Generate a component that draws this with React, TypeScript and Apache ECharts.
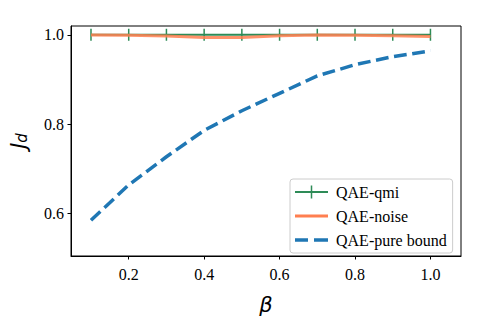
import React, { useEffect, useRef } from "react";
import * as echarts from "echarts";

const betas = [0.1, 0.2, 0.3, 0.4, 0.5, 0.6, 0.7, 0.8, 0.9, 1.0];
const qmi = [1.0, 1.0, 1.0, 1.0, 1.0, 1.0, 1.0, 1.0, 1.0, 1.0];
const noise = [0.9995, 0.999, 0.997, 0.994, 0.994, 0.998, 0.9995, 0.999, 0.998, 0.996];
const pureBound = [0.585, 0.664, 0.727, 0.786, 0.83, 0.869, 0.908, 0.933, 0.951, 0.964];
const xTicks = [0.2, 0.4, 0.6, 0.8, 1.0];
const yTicks = [0.6, 0.8, 1.0];

const serif = "Liberation Serif";
const corners = "M0,0h0.01v0.01h-0.01zM32.99,13.99h0.01v0.01h-0.01z";
const iconQmi = "path://" + corners + "M0,6h33v2h-33zM15.75,0.5h1.5v13h-1.5z";
const iconNoise = "path://" + corners + "M0,5.5h33v3h-33z";
const iconPure = "path://" + corners + "M0,5.2h13v3.6h-13zM19,5.2h14v3.6h-14z";

export default function App() {
  const ref = useRef<HTMLDivElement>(null);
  useEffect(() => {
    document.body.style.margin = "0";
    const chart = echarts.init(ref.current!, undefined, { renderer: "svg" });
    const pair = (ys: number[]) => betas.map((b, i) => [b, ys[i]]);
    chart.setOption({
      animation: false,
      backgroundColor: "#fff",
      textStyle: { fontFamily: serif },
      grid: {
        left: 67.5,
        right: 19,
        top: 26,
        bottom: 58,
        show: true,
        borderColor: "#000",
        borderWidth: 1,
        backgroundColor: "transparent",
      },
      xAxis: {
        type: "value",
        min: 0.047,
        max: 1.081,
        splitLine: { show: false },
        axisLine: { show: true, lineStyle: { color: "#000", width: 1 } },
        axisTick: { show: true, customValues: xTicks, length: 3.5, lineStyle: { color: "#000" } },
        axisLabel: {
          customValues: xTicks,
          formatter: (v: number) => v.toFixed(1),
          fontFamily: serif,
          fontSize: 16,
          color: "#000",
          margin: 10,
        },
        name: "β",
        nameLocation: "middle",
        nameGap: 38,
        nameTextStyle: { fontFamily: "DejaVu Sans", fontStyle: "italic", fontSize: 21, color: "#000" },
      },
      yAxis: {
        type: "value",
        min: 0.505,
        max: 1.0196,
        splitLine: { show: false },
        axisLine: { show: true, lineStyle: { color: "#000", width: 1 } },
        axisTick: { show: true, customValues: yTicks, length: 3.5, lineStyle: { color: "#000" } },
        axisLabel: {
          customValues: yTicks,
          formatter: (v: number) => v.toFixed(1),
          fontFamily: serif,
          fontSize: 16,
          color: "#000",
          margin: 7,
        },
        name: "{j|J}{d|d}",
        nameLocation: "middle",
        nameGap: 42,
        nameTextStyle: {
          rich: {
            j: { fontFamily: "DejaVu Sans", fontStyle: "italic", fontSize: 21, color: "#000", verticalAlign: "bottom" },
            d: { fontFamily: "DejaVu Sans", fontStyle: "italic", fontSize: 15, color: "#000", verticalAlign: "top", padding: [8, 0, 0, 0] },
          },
        },
      },
      legend: {
        orient: "vertical",
        left: 290,
        top: 179,
        width: 163,
        borderColor: "#ccc",
        borderWidth: 1,
        borderRadius: 3,
        backgroundColor: "rgba(255,255,255,0.8)",
        padding: [5, 6, 5, 5],
        itemWidth: 33,
        itemHeight: 14,
        itemGap: 8,
        textStyle: { fontFamily: serif, fontSize: 16, color: "#000", padding: [0, 0, 0, 3] },
        data: [
          { name: "QAE-qmi", icon: iconQmi },
          { name: "QAE-noise", icon: iconNoise },
          { name: "QAE-pure bound", icon: iconPure },
        ],
      },
      series: [
        {
          name: "QAE-qmi",
          type: "line",
          data: pair(qmi),
          symbol: "rect",
          symbolSize: [1.5, 12],
          showSymbol: true,
          lineStyle: { color: "#2e8b57", width: 2 },
          itemStyle: { color: "#2e8b57" },
          z: 2,
        },
        {
          name: "QAE-noise",
          type: "line",
          data: pair(noise),
          symbol: "none",
          lineStyle: { color: "#ff7f50", width: 3, opacity: 0.85 },
          itemStyle: { color: "#ff7f50" },
          z: 3,
        },
        {
          name: "QAE-pure bound",
          type: "line",
          data: pair(pureBound),
          symbol: "none",
          lineStyle: { color: "#1f77b4", width: 3.5, type: [12.8, 5.6] },
          itemStyle: { color: "#1f77b4" },
          z: 4,
        },
      ],
    });
    return () => chart.dispose();
  }, []);
  return <div ref={ref} style={{ width: 480, height: 320 }} />;
}
